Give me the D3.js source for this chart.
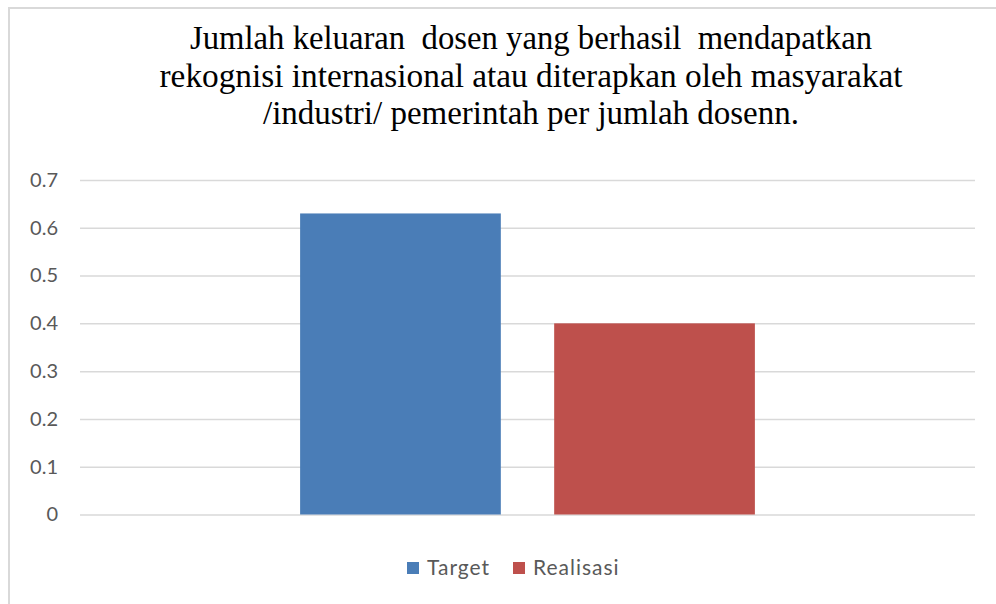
<!DOCTYPE html>
<html>
<head>
<meta charset="utf-8">
<script src="https://cdn.jsdelivr.net/npm/d3@7"></script>
<style>
  body { margin: 0; background: #fff; }
  .title { font-family: "Liberation Serif", "Times New Roman", "DejaVu Serif", serif; }
  .lbl { font-family: Lato, "Open Sans", sans-serif; }
</style>
</head>
<body>
<div id="canvas"></div>
<script>
"use strict"

/* data */
let categories = ["Indikator"];
let seriesNames = ["Target", "Realisasi"];
let seriesValues = [0.63, 0.40];
let seriesColors = ["#4a7db7", "#be504c"];
let yTicks = [0, 0.1, 0.2, 0.3, 0.4, 0.5, 0.6, 0.7];
let titleLines = [
  "Jumlah keluaran  dosen yang berhasil  mendapatkan",
  "rekognisi internasional atau diterapkan oleh masyarakat",
  "/industri/ pemerintah per jumlah dosenn."
];
let titleWidths = [682, 743, 536]; // measured line widths in the reference

let drawing = d3.select("#canvas")
    .append("svg")
    .attr("width", 996)
    .attr("height", 604);

/* chart frame */
let frame = drawing.append("rect")
    .attr("x", 9).attr("y", 8)
    .attr("width", 1000).attr("height", 620)
    .attr("fill", "#fff")
    .attr("stroke", "#d9d9d9")
    .attr("stroke-width", 2);

/* plot area */
let plotLeft = 80, plotRight = 975, plotTop = 180, plotBottom = 514.5;

let y = d3.scaleLinear().domain([0, 0.7]).range([plotBottom, plotTop]);

let x0 = d3.scaleBand().domain(categories)
    .range([plotLeft, plotRight]).paddingInner(0).paddingOuter(0.484);

let x1 = d3.scaleBand().domain(seriesNames)
    .range([0, x0.bandwidth()]).paddingInner(0.21).paddingOuter(0);

/* gridlines + labels via axis */
let yAxis = drawing.append("g")
    .attr("transform", `translate(${plotLeft},0)`)
    .call(d3.axisLeft(y).tickValues(yTicks).tickSize(-(plotRight - plotLeft))
      .tickPadding(22).tickFormat(d => d === 0 ? "0" : d3.format(".1f")(d)));

yAxis.select(".domain").remove();
yAxis.selectAll(".tick line")
    .attr("stroke", "#d9d9d9").attr("stroke-width", 1.5);
yAxis.selectAll(".tick text")
    .attr("class", "lbl")
    .attr("fill", "#595959")
    .attr("font-size", 20);

/* bars */
let bars = drawing.append("g")
  .selectAll("rect")
  .data(seriesNames.map((s, i) => ({ cat: categories[0], name: s, value: seriesValues[i], color: seriesColors[i] })))
  .join("rect")
    .attr("x", d => x0(d.cat) + x1(d.name))
    .attr("y", d => y(d.value))
    .attr("width", x1.bandwidth())
    .attr("height", d => y(0) - y(d.value))
    .attr("fill", d => d.color);

/* title */
let title = drawing.append("g")
  .selectAll("text")
  .data(titleLines)
  .join("text")
    .attr("class", "title")
    .attr("x", 531)
    .attr("y", (d, i) => 49 + i * 37.5)
    .attr("text-anchor", "middle")
    .attr("font-size", 33)
    .attr("textLength", (d, i) => titleWidths[i])
    .attr("lengthAdjust", "spacingAndGlyphs")
    .attr("fill", "#000")
    .style("white-space", "pre")
    .text(d => d);

/* legend */
let legendX = [407, 513];
let legend = drawing.append("g")
  .selectAll("g")
  .data(seriesNames)
  .join("g")
    .attr("transform", (d, i) => `translate(${legendX[i]},562)`);

legend.append("rect")
    .attr("width", 12).attr("height", 12)
    .attr("fill", (d, i) => seriesColors[i]);

legend.append("text")
    .attr("class", "lbl")
    .attr("x", 20).attr("y", 13)
    .attr("fill", "#595959")
    .attr("font-size", 21)
    .attr("letter-spacing", 1)
    .text(d => d);
</script>
</body>
</html>
